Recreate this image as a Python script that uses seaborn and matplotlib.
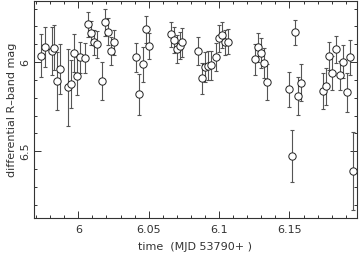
import numpy as np
import pandas as pd
import matplotlib
matplotlib.use("Agg")
import matplotlib.pyplot as plt
import seaborn as sns
from matplotlib.ticker import MultipleLocator

# time (MJD - 53790), differential R-band magnitude, 1-sigma error
mjd = [5.9733, 5.9766, 5.981, 5.983, 5.985, 5.987, 5.9927, 5.995, 5.997, 5.999,
       6.001, 6.005, 6.007, 6.009, 6.011, 6.0135, 6.017, 6.019, 6.021, 6.023,
       6.025, 6.041, 6.043, 6.046, 6.048, 6.050, 6.066, 6.068, 6.070, 6.072,
       6.074, 6.085, 6.088, 6.090, 6.092, 6.094, 6.098, 6.100, 6.102, 6.104,
       6.106, 6.1255, 6.128, 6.130, 6.132, 6.134, 6.150, 6.152, 6.154, 6.156,
       6.158, 6.174, 6.176, 6.178, 6.180, 6.183, 6.186, 6.188, 6.191, 6.193,
       6.195]
mag = [5.965, 5.914, 5.937, 5.920, 6.105, 6.039, 6.142, 6.124, 5.948, 6.079,
       5.974, 5.979, 5.787, 5.835, 5.889, 5.901, 6.105, 5.777, 5.830, 5.937,
       5.889, 5.974, 6.181, 6.011, 5.816, 5.910, 5.843, 5.876, 5.927, 5.908,
       5.889, 5.938, 6.092, 6.026, 6.021, 6.019, 5.972, 5.867, 5.848, 5.889,
       5.886, 5.985, 5.917, 5.949, 6.007, 6.111, 6.152, 6.528, 5.833, 6.189,
       6.116, 6.161, 6.137, 5.965, 6.060, 5.929, 6.073, 5.998, 6.170, 5.974,
       6.612]
err = [0.121, 0.112, 0.133, 0.126, 0.164, 0.140, 0.215, 0.136, 0.105, 0.108,
       0.089, 0.084, 0.070, 0.068, 0.070, 0.078, 0.108, 0.078, 0.075, 0.077,
       0.070, 0.080, 0.115, 0.098, 0.076, 0.075, 0.070, 0.072, 0.077, 0.075,
       0.080, 0.077, 0.086, 0.084, 0.082, 0.082, 0.078, 0.075, 0.073, 0.072,
       0.070, 0.087, 0.080, 0.084, 0.084, 0.101, 0.098, 0.148, 0.072, 0.106,
       0.103, 0.100, 0.103, 0.080, 0.094, 0.078, 0.082, 0.092, 0.110, 0.100,
       0.220]

df = pd.DataFrame({"t": mjd, "mag": mag, "err": err})

sns.set_style("ticks")
plt.rcParams['font.family'] = ['DejaVu Sans']

fig = plt.figure(figsize=(3.6, 2.59), dpi=100)
ax = fig.add_axes([0.0944, 0.158, 0.8973, 0.838])

ax.errorbar(df["t"], df["mag"], yerr=df["err"], fmt="none", ecolor="#555555",
            elinewidth=0.8, capsize=1.5, capthick=0.8, zorder=1)
sns.scatterplot(data=df, x="t", y="mag", ax=ax, marker="o", s=28,
                facecolor="white", edgecolor="#222222", linewidth=0.7, zorder=2)

ax.set_xlim(5.9685, 6.198)
ax.set_ylim(6.876, 5.657)

ax.xaxis.set_major_locator(MultipleLocator(0.05))
ax.xaxis.set_minor_locator(MultipleLocator(0.01))
ax.yaxis.set_major_locator(MultipleLocator(0.5))
ax.yaxis.set_minor_locator(MultipleLocator(0.1))
ax.set_xticks([6.0, 6.05, 6.1, 6.15])
ax.set_xticklabels(["6", "6.05", "6.1", "6.15"])
ax.set_yticks([6.0, 6.5])
ax.set_yticklabels(["6", "6.5"], rotation=90, va="center")

ax.tick_params(which="both", direction="in", top=True, right=True,
               labelsize=8, width=0.7, colors="#333333", labelcolor="#333333")
ax.tick_params(axis="x", which="major", length=5, pad=5)
ax.tick_params(axis="y", which="major", length=5, pad=3)
ax.tick_params(which="minor", length=2.5)
for sp in ax.spines.values():
    sp.set_linewidth(0.8)
    sp.set_color("#333333")

ax.set_xlabel("time  (MJD 53790+ )", fontsize=8, color="#333333", labelpad=5)
ax.set_ylabel("differential R\u2013band mag", fontsize=8, color="#333333", labelpad=2)

fig.savefig("out.png", dpi=100)
